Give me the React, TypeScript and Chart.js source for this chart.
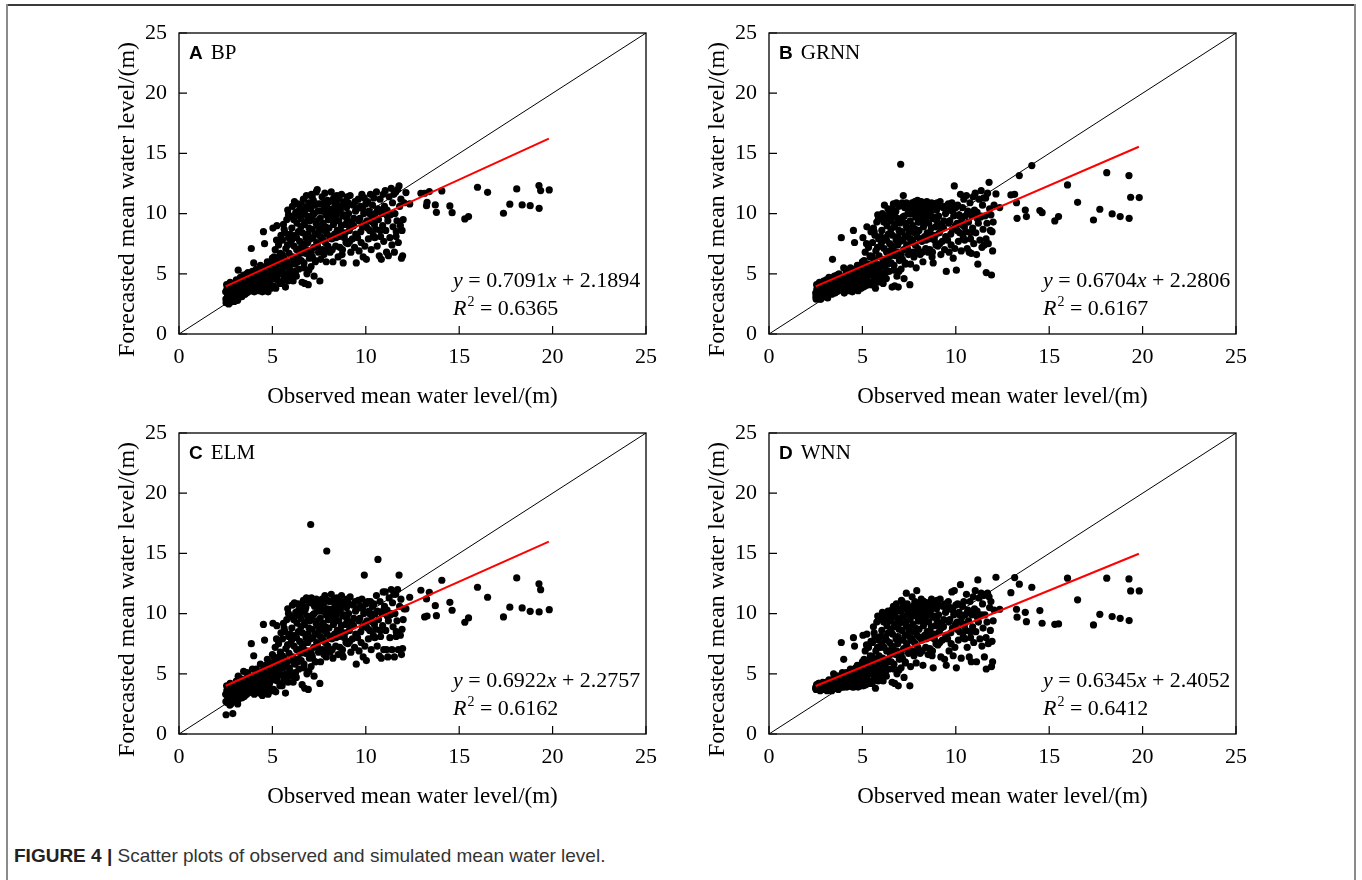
import React, { useEffect, useRef } from "react";
import { Chart, registerables } from "chart.js";
Chart.register(...registerables);

// ---------- axis ticks ----------
const axisTicks = [0, 5, 10, 15, 20, 25];
const axisMin = 0;
const axisMax = 25;

// ---------- observed values (shared by all four models), grouped in bands ----------
const observedBands: number[][] = [
  [2.50, 2.52, 2.55, 2.58, 2.62, 2.66, 2.70, 2.74, 2.78, 2.83, 2.88, 2.92, 2.96, 3.00],
  [3.04, 3.07, 3.11, 3.14, 3.17, 3.21, 3.25, 3.29, 3.32, 3.36, 3.40, 3.43, 3.46, 3.50],
  [3.53, 3.57, 3.60, 3.64, 3.67, 3.71, 3.75, 3.79, 3.83, 3.87, 3.90, 3.93, 3.96, 4.00],
  [4.03, 4.07, 4.10, 4.14, 4.17, 4.21, 4.25, 4.29, 4.32, 4.36, 4.40, 4.43, 4.46, 4.50],
  [4.52, 4.55, 4.58, 4.61, 4.64, 4.67, 4.70, 4.73, 4.77, 4.80, 4.83, 4.86, 4.90, 4.93, 4.96, 5.00],
  [5.03, 5.06, 5.09, 5.12, 5.15, 5.18, 5.21, 5.24, 5.27, 5.30, 5.33, 5.37, 5.40, 5.43, 5.46, 5.49],
  [5.52, 5.54, 5.57, 5.59, 5.62, 5.64, 5.67, 5.70, 5.72, 5.74, 5.77, 5.79, 5.82, 5.84, 5.87, 5.89, 5.92, 5.94, 5.97, 5.99],
  [6.02, 6.04, 6.07, 6.09, 6.11, 6.14, 6.16, 6.18, 6.21, 6.23, 6.25, 6.28, 6.30, 6.32, 6.35, 6.37, 6.39, 6.42, 6.44, 6.46, 6.48, 6.50],
  [6.52, 6.54, 6.57, 6.59, 6.61, 6.64, 6.66, 6.68, 6.71, 6.73, 6.75, 6.78, 6.80, 6.82, 6.85, 6.87, 6.89, 6.92, 6.94, 6.96, 6.98, 7.00],
  [7.02, 7.05, 7.07, 7.09, 7.12, 7.14, 7.16, 7.19, 7.21, 7.23, 7.26, 7.28, 7.30, 7.33, 7.35, 7.37, 7.40, 7.42, 7.44, 7.47, 7.49, 7.54],
  [7.56, 7.58, 7.61, 7.63, 7.66, 7.68, 7.71, 7.73, 7.76, 7.78, 7.81, 7.83, 7.86, 7.88, 7.91, 7.93, 7.95, 7.97, 7.99, 8.00],
  [8.03, 8.06, 8.09, 8.12, 8.15, 8.18, 8.21, 8.24, 8.27, 8.30, 8.33, 8.36, 8.39, 8.42, 8.45, 8.47, 8.49, 8.52],
  [8.55, 8.58, 8.61, 8.64, 8.67, 8.70, 8.73, 8.76, 8.79, 8.82, 8.85, 8.88, 8.91, 8.94, 8.97, 9.00],
  [9.04, 9.08, 9.12, 9.16, 9.20, 9.24, 9.28, 9.32, 9.36, 9.40, 9.43, 9.46, 9.49, 9.52],
  [9.56, 9.60, 9.64, 9.68, 9.71, 9.75, 9.79, 9.82, 9.86, 9.89, 9.92, 9.95, 9.98, 10.00],
  [10.03, 10.07, 10.10, 10.14, 10.18, 10.21, 10.25, 10.29, 10.32, 10.36, 10.40, 10.43, 10.46, 10.50],
  [10.54, 10.57, 10.61, 10.65, 10.68, 10.72, 10.76, 10.79, 10.83, 10.86, 10.90, 10.93, 10.96, 11.00],
  [11.04, 11.07, 11.11, 11.14, 11.18, 11.21, 11.25, 11.29, 11.32, 11.36, 11.40, 11.43, 11.46, 11.50],
  [11.53, 11.56, 11.60, 11.63, 11.67, 11.70, 11.74, 11.78, 11.81, 11.85, 11.88, 11.91, 11.94, 11.97, 12.00, 12.05],
  [12.15, 12.35, 12.95, 13.15, 13.25, 13.28, 13.40, 13.72, 13.78, 14.07, 14.50, 14.62, 15.30, 15.50, 15.98, 16.52, 17.37, 17.71, 18.08, 18.37, 18.80, 19.27, 19.36, 19.28, 19.82],
  // second layer for the dense part of the cloud
  [2.51, 2.56, 2.61, 2.68, 2.72, 2.81, 2.86, 2.94, 3.02, 3.10, 3.19, 3.27, 3.38, 3.48],
  [3.55, 3.62, 3.69, 3.77, 3.85, 3.92, 3.98, 4.05, 4.12, 4.19, 4.27, 4.34, 4.41, 4.48],
  [4.54, 4.60, 4.66, 4.72, 4.78, 4.84, 4.91, 4.97, 5.04, 5.10, 5.16, 5.22, 5.29, 5.35, 5.41, 5.47],
  [5.53, 5.58, 5.63, 5.69, 5.75, 5.81, 5.86, 5.91, 5.96, 6.03, 6.08, 6.13, 6.19, 6.24, 6.29, 6.36, 6.41, 6.47],
  [6.53, 6.58, 6.63, 6.69, 6.74, 6.79, 6.84, 6.90, 6.95, 7.03, 7.08, 7.13, 7.18, 7.24, 7.29, 7.34, 7.41, 7.46],
  [7.57, 7.62, 7.67, 7.72, 7.77, 7.84, 7.89, 7.94, 8.02, 8.08, 8.14, 8.20, 8.26, 8.32, 8.40, 8.46],
  [8.56, 8.63, 8.69, 8.75, 8.83, 8.90, 8.98, 9.06, 9.14, 9.22, 9.34, 9.45],
  [9.62, 9.73, 9.84, 9.96, 10.08, 10.20, 10.34, 10.48, 10.62, 10.78, 10.95, 11.15, 11.38, 11.62],
];

// ---------- forecasted values, same band layout ----------
const bpForecast: number[][] = [
  [3.5, 2.6, 4.1, 3.0, 3.8, 2.5, 3.3, 4.3, 2.8, 3.6, 3.1, 4.0, 2.7, 3.4],
  [3.0, 4.5, 3.6, 2.8, 5.3, 4.0, 3.3, 4.7, 3.8, 3.1, 4.3, 3.5, 4.9, 3.9],
  [3.3, 4.6, 3.8, 5.0, 4.2, 3.5, 4.8, 3.9, 4.4, 7.1, 3.6, 5.2, 4.1, 5.9],
  [3.5, 4.9, 4.1, 5.4, 3.8, 4.5, 5.1, 3.6, 4.3, 5.7, 4.0, 4.8, 3.5, 5.3],
  [8.5, 3.6, 7.5, 4.4, 5.6, 3.9, 4.9, 6.0, 3.5, 5.3, 4.2, 5.8, 4.7, 3.8, 5.1, 6.3],
  [8.8, 4.0, 6.4, 5.0, 7.0, 3.8, 5.6, 9.0, 4.5, 6.1, 7.4, 5.2, 4.2, 6.7, 8.2, 5.8],
  [4.2, 7.8, 5.5, 9.1, 6.3, 4.6, 8.4, 3.9, 7.1, 5.0, 9.5, 6.0, 10.3, 4.4, 8.0, 6.7, 5.3, 9.8, 7.5, 4.8],
  [5.2, 8.8, 10.6, 6.4, 4.4, 9.5, 7.3, 11.0, 5.8, 8.2, 10.1, 4.8, 7.0, 9.2, 6.0, 10.8, 8.5, 5.4, 9.9, 7.7, 10.4, 6.7],
  [9.6, 6.1, 10.7, 4.3, 8.4, 7.2, 11.2, 5.5, 9.1, 4.2, 10.3, 6.7, 8.0, 11.5, 5.0, 9.8, 7.6, 4.1, 10.9, 8.8, 6.3, 9.4],
  [7.9, 10.4, 5.6, 11.6, 8.7, 6.4, 9.9, 11.1, 7.2, 4.8, 10.7, 8.3, 6.0, 9.4, 11.8, 7.6, 12.0, 9.0, 10.2, 6.8, 8.6, 4.4],
  [9.6, 6.2, 10.8, 8.0, 11.4, 7.0, 9.2, 10.3, 6.6, 8.6, 11.7, 7.6, 9.9, 6.0, 10.6, 8.3, 11.1, 7.3, 9.5, 10.0],
  [8.8, 11.0, 6.8, 9.7, 11.8, 7.9, 10.4, 6.0, 9.1, 11.3, 8.3, 10.8, 7.3, 9.9, 11.5, 8.6, 10.2, 6.4],
  [9.4, 11.2, 7.2, 10.3, 8.5, 11.6, 6.6, 9.8, 5.9, 10.8, 8.0, 11.0, 9.1, 7.6, 10.5, 11.4],
  [7.5, 10.0, 8.6, 11.5, 6.8, 9.3, 7.9, 10.7, 9.6, 7.2, 11.0, 8.3, 5.9, 10.4],
  [8.0, 11.2, 6.9, 9.6, 10.6, 7.6, 11.6, 8.9, 6.4, 10.0, 11.3, 7.3, 9.2, 10.8],
  [6.2, 9.4, 11.0, 7.9, 10.2, 8.6, 11.6, 7.0, 9.8, 10.7, 8.2, 11.3, 9.1, 10.0],
  [8.7, 11.8, 7.3, 10.4, 9.5, 6.5, 11.2, 8.1, 6.2, 10.0, 9.0, 11.6, 7.7, 10.6],
  [11.9, 8.6, 6.8, 10.3, 9.4, 6.5, 11.4, 8.0, 9.9, 12.1, 7.4, 10.9, 8.9, 11.6],
  [6.8, 10.0, 11.8, 8.5, 9.4, 12.0, 7.6, 12.3, 10.6, 9.0, 11.2, 6.3, 8.6, 6.5, 9.5, 10.9],
  [11.75, 10.8, 11.69, 11.69, 10.66, 10.94, 11.83, 10.72, 10.11, 11.88, 10.64, 10.08, 9.56, 9.75, 12.19, 11.77, 10.03, 10.78, 12.05, 10.72, 10.66, 12.33, 11.91, 10.44, 11.97],
  [2.9, 3.7, 3.2, 4.0, 2.6, 3.4, 3.9, 2.9, 3.6, 4.2, 3.1, 3.7, 4.4, 3.3],
  [4.3, 3.4, 5.1, 3.9, 4.6, 3.7, 4.5, 4.4, 3.7, 4.9, 4.1, 3.9, 5.0, 4.5],
  [4.5, 5.2, 4.1, 4.8, 5.6, 4.3, 5.4, 3.9, 6.0, 4.6, 5.5, 7.8, 4.9, 5.9, 6.6, 4.3],
  [6.6, 5.0, 8.7, 5.8, 4.6, 7.4, 9.9, 5.6, 8.3, 7.8, 4.9, 6.0, 9.8, 5.2, 8.0, 6.3, 10.2, 7.1],
  [8.9, 7.5, 10.0, 5.9, 9.3, 10.5, 7.0, 8.3, 5.3, 9.6, 6.8, 11.4, 8.0, 10.0, 6.1, 9.2, 7.3, 10.8],
  [8.1, 10.2, 9.0, 7.8, 10.9, 8.9, 7.0, 10.4, 9.5, 8.1, 10.0, 7.0, 11.2, 9.4, 8.0, 10.7],
  [8.1, 10.6, 9.0, 7.0, 9.9, 8.4, 9.6, 10.9, 7.7, 8.9, 9.0, 10.2],
  [9.4, 8.5, 10.4, 9.0, 8.8, 10.0, 9.3, 8.0, 10.2, 8.6, 10.3, 9.8, 10.0, 8.1],
];

const grnnForecast: number[][] = [
  [3.4, 2.9, 4.1, 3.2, 3.7, 3.0, 4.3, 3.5, 2.9, 3.9, 3.3, 4.4, 3.1, 3.7],
  [3.2, 4.5, 3.7, 3.0, 4.2, 4.7, 3.4, 4.0, 3.6, 3.3, 6.2, 4.4, 3.8, 4.8],
  [3.4, 4.6, 3.9, 4.9, 4.2, 3.6, 5.0, 4.0, 4.4, 8.0, 3.7, 4.7, 4.1, 5.5],
  [3.4, 4.8, 4.0, 5.2, 3.8, 4.4, 4.9, 3.6, 4.2, 5.5, 3.9, 4.6, 3.5, 5.0],
  [8.6, 3.7, 7.6, 4.3, 5.4, 3.9, 4.8, 5.7, 3.6, 5.1, 4.1, 5.5, 4.6, 3.8, 4.9, 6.0],
  [8.0, 3.9, 6.1, 4.8, 6.8, 4.0, 5.3, 8.9, 4.4, 5.8, 7.2, 5.0, 4.1, 6.5, 8.5, 5.6],
  [4.1, 7.6, 5.3, 8.8, 6.1, 4.5, 8.2, 3.8, 6.9, 4.9, 9.3, 5.8, 9.9, 4.3, 7.9, 6.5, 5.2, 9.6, 7.3, 4.7],
  [5.0, 8.6, 10.0, 6.2, 4.2, 9.3, 7.1, 10.7, 5.6, 8.0, 9.8, 4.6, 6.8, 9.0, 5.8, 10.4, 8.3, 5.2, 9.6, 7.5, 10.2, 6.5],
  [9.4, 5.9, 10.4, 3.9, 8.2, 7.0, 10.8, 5.3, 8.9, 4.0, 10.1, 6.5, 7.8, 10.9, 4.8, 9.6, 7.4, 3.9, 10.6, 8.6, 6.1, 9.2],
  [7.7, 14.1, 5.4, 10.8, 8.5, 6.2, 9.7, 11.5, 7.0, 4.6, 10.5, 8.1, 5.8, 9.2, 10.9, 7.4, 10.6, 8.8, 10.0, 6.6, 8.4, 4.1],
  [9.4, 5.8, 10.4, 7.8, 10.9, 6.8, 9.0, 10.1, 6.4, 8.4, 11.0, 7.4, 9.7, 5.5, 10.6, 8.1, 11.1, 7.1, 9.3, 9.8],
  [8.6, 10.6, 6.6, 9.5, 11.0, 7.7, 10.2, 6.0, 8.9, 10.9, 8.1, 10.5, 7.1, 9.7, 11.0, 8.4, 10.0, 6.8],
  [9.2, 10.8, 7.0, 10.1, 8.3, 10.9, 6.4, 9.6, 5.9, 10.6, 7.8, 10.8, 8.9, 7.4, 10.3, 10.9],
  [7.3, 9.8, 8.4, 11.0, 6.6, 9.1, 7.7, 10.5, 9.4, 7.0, 10.6, 8.1, 5.2, 10.2],
  [7.8, 10.8, 6.8, 9.4, 10.4, 7.4, 10.9, 8.7, 6.3, 9.8, 12.3, 7.1, 9.0, 10.5],
  [5.3, 9.2, 10.7, 7.7, 9.9, 8.4, 11.6, 6.9, 9.6, 10.5, 8.0, 11.2, 8.9, 9.8],
  [8.5, 11.5, 7.1, 10.2, 9.3, 6.8, 10.9, 7.9, 6.7, 9.8, 8.8, 11.4, 7.5, 10.3],
  [11.7, 8.4, 6.6, 10.1, 5.8, 9.2, 11.2, 7.8, 9.7, 11.9, 7.2, 10.7, 8.7, 11.3],
  [7.4, 9.8, 11.3, 5.1, 9.2, 11.7, 7.5, 12.6, 10.4, 8.6, 9.9, 4.9, 8.5, 6.9, 9.3, 10.7],
  [11.63, 10.5, 11.55, 11.6, 10.91, 9.61, 13.16, 10.3, 9.75, 13.99, 10.25, 10.08, 9.39, 9.75, 12.38, 10.94, 9.47, 10.36, 13.4, 9.97, 9.75, 13.16, 11.36, 9.61, 11.33],
  [3.1, 3.7, 3.3, 4.0, 2.9, 3.5, 3.9, 3.2, 3.6, 4.2, 3.3, 3.7, 4.4, 3.5],
  [4.2, 3.5, 4.9, 3.9, 4.5, 3.7, 4.4, 4.3, 3.8, 4.8, 4.0, 3.9, 4.9, 4.4],
  [4.4, 5.0, 4.1, 4.7, 5.4, 4.3, 5.2, 3.9, 5.8, 4.5, 5.3, 7.5, 4.8, 5.7, 6.4, 4.3],
  [6.4, 4.9, 8.5, 5.6, 4.5, 7.2, 9.6, 5.5, 8.1, 7.6, 4.8, 5.9, 9.5, 5.1, 7.8, 6.2, 9.9, 6.9],
  [8.7, 7.3, 9.8, 5.7, 9.1, 10.2, 6.8, 8.1, 5.2, 9.4, 6.6, 10.9, 7.8, 9.8, 5.9, 9.0, 7.1, 10.5],
  [7.9, 10.0, 8.8, 7.6, 10.6, 8.7, 6.8, 10.2, 9.3, 7.9, 9.8, 6.8, 10.8, 9.2, 7.8, 10.4],
  [7.9, 10.4, 8.8, 6.8, 9.7, 8.2, 9.4, 10.6, 7.5, 8.7, 8.8, 10.0],
  [9.2, 8.3, 10.2, 8.8, 8.6, 9.8, 9.1, 7.8, 10.0, 8.4, 10.1, 9.6, 9.8, 7.9],
];

const elmForecast: number[][] = [
  [3.3, 1.6, 4.0, 2.6, 3.7, 2.9, 3.2, 4.2, 2.5, 3.5, 1.7, 3.9, 2.8, 3.4],
  [2.9, 4.4, 3.5, 2.5, 4.8, 3.9, 3.2, 4.6, 3.7, 3.0, 4.2, 3.4, 5.2, 3.8],
  [3.2, 4.6, 3.7, 5.1, 4.1, 3.4, 4.8, 3.8, 4.4, 7.5, 3.5, 5.4, 4.0, 6.5],
  [3.3, 4.9, 4.0, 5.4, 3.7, 4.4, 5.0, 3.4, 4.2, 5.8, 3.9, 4.7, 3.2, 5.3],
  [9.1, 3.5, 7.8, 4.4, 5.7, 3.8, 4.9, 6.2, 3.3, 5.3, 4.2, 5.9, 4.6, 3.6, 5.0, 6.6],
  [9.2, 3.7, 6.4, 4.9, 7.2, 3.5, 5.6, 9.0, 4.4, 6.1, 7.5, 5.2, 4.0, 6.8, 8.4, 5.8],
  [4.0, 7.9, 5.5, 9.2, 6.3, 4.5, 8.5, 3.4, 7.1, 5.0, 9.5, 6.0, 10.4, 4.3, 8.1, 6.7, 5.2, 9.8, 7.5, 4.8],
  [5.1, 8.8, 10.7, 6.4, 4.3, 9.5, 7.3, 10.9, 5.8, 8.2, 10.1, 4.7, 7.0, 9.2, 6.0, 10.8, 8.5, 5.4, 9.9, 7.7, 10.4, 6.7],
  [9.6, 6.1, 10.7, 4.1, 8.4, 7.2, 11.1, 5.5, 9.1, 3.8, 10.3, 6.7, 8.0, 11.3, 5.0, 9.8, 7.6, 3.7, 10.9, 8.8, 6.3, 9.4],
  [7.9, 17.4, 5.6, 11.3, 8.7, 6.4, 9.9, 10.8, 7.2, 4.8, 10.6, 8.3, 6.0, 9.4, 11.2, 7.6, 11.0, 9.0, 10.2, 6.8, 8.6, 4.2],
  [9.6, 6.0, 10.6, 8.0, 11.2, 7.0, 9.2, 10.3, 6.6, 8.6, 11.5, 7.6, 9.9, 6.4, 15.2, 8.3, 11.1, 7.3, 9.5, 10.0],
  [8.8, 11.0, 6.8, 9.7, 11.6, 7.9, 10.4, 6.3, 9.1, 11.2, 8.3, 10.8, 7.3, 9.9, 11.3, 8.6, 10.2, 6.6],
  [9.4, 11.1, 7.2, 10.3, 8.5, 11.5, 6.6, 9.8, 6.4, 10.8, 8.0, 11.0, 9.1, 7.6, 10.5, 11.2],
  [7.5, 10.0, 8.6, 11.4, 6.8, 9.3, 7.9, 10.7, 9.6, 7.2, 11.0, 8.3, 5.8, 10.4],
  [8.0, 11.1, 6.9, 9.6, 10.6, 7.6, 11.2, 8.9, 6.4, 10.0, 13.2, 7.3, 9.2, 10.8],
  [6.1, 9.4, 11.0, 7.9, 10.2, 8.6, 11.0, 7.0, 9.8, 10.6, 8.2, 10.8, 9.1, 10.0],
  [8.7, 11.5, 7.3, 14.5, 9.5, 6.5, 11.0, 8.1, 6.3, 10.0, 9.0, 11.8, 7.0, 10.6],
  [11.8, 8.6, 7.0, 10.3, 6.4, 9.4, 11.3, 8.0, 9.9, 12.0, 7.0, 10.9, 8.9, 11.6],
  [6.4, 10.0, 11.6, 8.5, 9.4, 12.0, 7.0, 13.2, 10.6, 8.2, 11.2, 6.6, 8.7, 7.1, 9.5, 10.4],
  [10.4, 11.36, 11.94, 9.72, 11.22, 9.8, 11.77, 10.66, 9.83, 12.77, 10.94, 10.28, 9.28, 9.64, 12.19, 11.36, 9.72, 10.53, 12.96, 10.47, 10.19, 12.47, 11.99, 10.14, 10.33],
  [2.7, 3.6, 3.0, 3.9, 2.4, 3.3, 3.8, 2.7, 3.5, 4.1, 2.9, 3.6, 4.3, 3.1],
  [4.2, 3.3, 5.0, 3.8, 4.5, 3.5, 4.4, 4.3, 3.5, 4.8, 4.0, 3.7, 4.9, 4.4],
  [4.4, 5.1, 4.0, 4.7, 5.5, 4.2, 5.3, 3.7, 5.9, 4.5, 5.4, 7.9, 4.8, 5.8, 6.5, 4.1],
  [6.5, 4.9, 8.8, 5.7, 4.5, 7.4, 10.0, 5.5, 8.3, 7.8, 4.8, 6.0, 9.8, 5.1, 8.0, 6.2, 10.3, 7.0],
  [8.9, 7.5, 10.1, 5.8, 9.3, 10.5, 6.9, 8.3, 5.2, 9.6, 6.7, 11.2, 8.0, 10.0, 6.0, 9.2, 7.3, 10.8],
  [8.1, 10.2, 9.0, 7.8, 10.9, 8.9, 7.0, 10.4, 9.5, 8.1, 10.0, 7.0, 11.0, 9.4, 8.0, 10.7],
  [8.1, 10.6, 9.0, 7.0, 9.9, 8.4, 9.6, 10.9, 7.7, 8.9, 9.0, 10.2],
  [9.4, 8.5, 10.4, 9.0, 8.8, 10.0, 9.3, 8.0, 10.2, 8.6, 10.3, 9.8, 10.0, 8.1],
];

const wnnForecast: number[][] = [
  [3.8, 3.7, 4.1, 3.9, 3.7, 4.2, 3.8, 3.6, 4.0, 3.7, 4.3, 3.9, 3.7, 4.1],
  [3.9, 4.3, 3.6, 4.1, 3.8, 4.5, 3.7, 4.2, 3.9, 3.6, 4.4, 4.0, 5.0, 3.8],
  [3.8, 4.5, 4.0, 4.8, 4.2, 3.7, 4.6, 4.1, 4.4, 7.6, 3.9, 5.1, 4.3, 6.2],
  [3.9, 4.6, 4.2, 5.1, 3.9, 4.4, 4.8, 4.0, 4.3, 5.4, 4.1, 4.7, 3.9, 5.0],
  [8.0, 3.9, 7.3, 4.4, 5.5, 4.0, 4.7, 5.7, 3.9, 5.1, 4.2, 5.4, 4.6, 4.0, 4.9, 6.0],
  [8.2, 4.0, 6.2, 4.8, 6.9, 4.1, 5.4, 8.3, 4.4, 5.9, 7.2, 5.1, 4.2, 6.5, 7.7, 5.6],
  [4.2, 7.6, 5.4, 8.9, 6.2, 4.6, 8.1, 3.8, 6.9, 5.0, 9.3, 5.9, 9.8, 4.4, 7.8, 6.5, 5.3, 9.5, 7.2, 4.8],
  [5.2, 8.6, 10.1, 6.3, 4.4, 9.3, 7.2, 9.8, 5.7, 8.1, 9.9, 4.8, 6.9, 9.0, 6.0, 10.2, 8.4, 5.4, 9.6, 7.6, 10.0, 6.6],
  [9.4, 6.0, 10.3, 4.3, 8.3, 7.1, 10.6, 5.4, 8.9, 4.2, 10.0, 6.6, 7.9, 10.8, 5.0, 9.6, 7.5, 4.0, 10.4, 8.7, 6.2, 9.2],
  [7.8, 10.2, 5.5, 11.1, 8.6, 6.3, 9.8, 10.6, 7.1, 4.7, 10.4, 8.2, 5.9, 9.3, 11.7, 7.5, 10.8, 8.9, 10.0, 6.7, 8.5, 4.0],
  [9.5, 5.6, 10.5, 7.9, 11.4, 6.9, 9.1, 10.2, 6.5, 8.5, 11.0, 7.5, 9.8, 5.9, 11.9, 8.2, 10.6, 7.2, 9.4, 9.9],
  [8.7, 10.8, 6.7, 9.6, 11.2, 7.8, 10.3, 5.7, 9.0, 11.0, 8.2, 10.6, 7.2, 9.8, 10.9, 8.5, 10.1, 6.6],
  [9.3, 10.9, 7.1, 10.2, 8.4, 11.2, 6.5, 9.7, 5.5, 10.7, 7.9, 10.9, 9.0, 7.5, 10.4, 11.1],
  [7.4, 9.9, 8.5, 11.2, 6.4, 9.2, 7.8, 10.6, 9.5, 6.2, 10.8, 8.2, 5.7, 10.3],
  [7.9, 11.0, 6.9, 9.5, 10.5, 7.5, 11.8, 8.8, 6.5, 9.9, 11.9, 7.2, 9.1, 10.7],
  [5.5, 9.3, 10.8, 7.8, 10.1, 8.5, 12.4, 6.3, 9.7, 10.6, 8.1, 11.0, 9.0, 9.9],
  [8.6, 11.6, 7.2, 10.3, 9.4, 6.4, 11.0, 8.0, 6.0, 9.9, 8.9, 11.4, 7.6, 10.4],
  [11.9, 8.5, 6.0, 10.2, 12.8, 9.3, 11.3, 7.9, 9.8, 11.7, 7.3, 10.8, 8.8, 11.5],
  [6.4, 9.9, 11.6, 5.4, 9.3, 11.7, 7.5, 11.4, 10.5, 8.6, 11.0, 5.6, 7.7, 6.0, 9.4, 10.3],
  [13.02, 10.36, 11.74, 12.99, 10.36, 9.7, 12.44, 10.11, 9.33, 12.19, 10.25, 9.2, 9.11, 9.14, 12.94, 11.14, 9.06, 9.94, 12.94, 9.75, 9.61, 12.88, 11.88, 9.42, 11.88],
  [3.9, 4.0, 3.8, 4.2, 3.7, 3.9, 4.1, 3.8, 4.0, 4.3, 3.8, 4.0, 4.5, 3.9],
  [4.3, 3.9, 4.8, 4.1, 4.5, 3.9, 4.4, 4.3, 4.0, 4.7, 4.2, 4.0, 4.8, 4.4],
  [4.5, 5.0, 4.2, 4.7, 5.3, 4.4, 5.1, 4.1, 5.7, 4.6, 5.3, 7.4, 4.9, 5.7, 6.3, 4.4],
  [6.4, 5.0, 8.4, 5.7, 4.6, 7.2, 9.5, 5.5, 8.1, 7.6, 4.9, 5.9, 9.4, 5.2, 7.8, 6.2, 9.9, 6.9],
  [8.7, 7.3, 9.8, 5.8, 9.1, 10.2, 6.9, 8.1, 5.3, 9.4, 6.7, 11.0, 7.8, 9.8, 6.0, 9.0, 7.2, 10.5],
  [8.0, 10.0, 8.9, 7.7, 10.7, 8.8, 6.9, 10.3, 9.4, 8.0, 9.9, 6.9, 11.0, 9.3, 7.9, 10.5],
  [8.0, 10.5, 8.9, 6.9, 9.8, 8.3, 9.5, 10.8, 7.6, 8.8, 8.9, 10.1],
  [9.3, 8.4, 10.3, 8.9, 8.7, 9.9, 9.2, 7.9, 10.1, 8.5, 10.2, 9.7, 9.9, 8.0],
];

// ---------- 1:1 line and fitted regression lines (end points) ----------
const identityLine: number[][] = [[0, 0], [25, 25]];
const bpFit: number[][] = [[2.5, 3.96], [19.8, 16.23]];
const grnnFit: number[][] = [[2.5, 3.96], [19.8, 15.55]];
const elmFit: number[][] = [[2.5, 4.01], [19.8, 15.98]];
const wnnFit: number[][] = [[2.5, 3.99], [19.8, 14.97]];

// ---------- labels ----------
const panelLetters = ["A", "B", "C", "D"];
const modelNames = ["BP", "GRNN", "ELM", "WNN"];
const slopes = ["0.7091", "0.6704", "0.6922", "0.6345"];
const intercepts = ["2.1894", "2.2806", "2.2757", "2.4052"];
const rSquared = ["0.6365", "0.6167", "0.6162", "0.6412"];
const xTitle = "Observed mean water level/(m)";
const yTitle = "Forecasted mean water level/(m)";

const forecasts = [bpForecast, grnnForecast, elmForecast, wnnForecast];
const fits = [bpFit, grnnFit, elmFit, wnnFit];

const SERIF = "'Liberation Serif', 'Times New Roman', Times, serif";
const SANS = "'Liberation Sans', Arial, Helvetica, sans-serif";

function zipBands(xs: number[][], ys: number[][]) {
  const out: { x: number; y: number }[] = [];
  for (let b = 0; b < xs.length; b++) {
    const xr = xs[b] || [];
    const yr = ys[b] || [];
    const n = Math.min(xr.length, yr.length);
    for (let i = 0; i < n; i++) out.push({ x: xr[i], y: yr[i] });
  }
  return out;
}

const decorPlugin = {
  id: "decor",
  afterDraw(chart: any) {
    const { ctx, chartArea: a, scales } = chart;
    const o = chart.options.plugins.decor;
    const xs = scales.x;
    const ys = scales.y;
    ctx.save();
    // plot frame
    ctx.strokeStyle = "#000";
    ctx.lineWidth = 1.3;
    ctx.strokeRect(a.left, a.top, a.right - a.left, a.bottom - a.top);
    // inward ticks
    ctx.beginPath();
    xs.ticks.forEach((t: any) => {
      const px = xs.getPixelForValue(t.value);
      ctx.moveTo(px, a.bottom);
      ctx.lineTo(px, a.bottom - 8);
    });
    ys.ticks.forEach((t: any) => {
      const py = ys.getPixelForValue(t.value);
      ctx.moveTo(a.left, py);
      ctx.lineTo(a.left + 8, py);
    });
    ctx.lineWidth = 1.2;
    ctx.stroke();

    ctx.fillStyle = "#000";
    ctx.textBaseline = "alphabetic";
    // x title
    ctx.font = `23px ${SERIF}`;
    ctx.textAlign = "center";
    ctx.fillText(o.xTitle, (a.left + a.right) / 2, a.bottom + 69);
    // y title
    ctx.save();
    ctx.font = `24px ${SERIF}`;
    ctx.translate(a.left - 51, (a.top + a.bottom) / 2 + 16);
    ctx.rotate(-Math.PI / 2);
    ctx.textBaseline = "middle";
    ctx.fillText(o.yTitle, 0, 0);
    ctx.restore();

    // panel label
    ctx.textAlign = "left";
    ctx.textBaseline = "alphabetic";
    ctx.font = `bold 19px ${SANS}`;
    const lx = a.left + 10;
    const ly = a.top + 26;
    ctx.fillText(o.letter, lx, ly);
    const lw = ctx.measureText(o.letter).width;
    ctx.font = `21px ${SERIF}`;
    ctx.fillText(o.name, lx + lw + 8, ly);

    // equation
    let ex = a.left + 274;
    const ey = a.top + 254;
    const parts: [string, boolean][] = [
      ["y", true],
      [" = " + o.slope, false],
      ["x", true],
      [" + " + o.intercept, false],
    ];
    parts.forEach(([s, it]) => {
      ctx.font = `${it ? "italic " : ""}22px ${SERIF}`;
      ctx.fillText(s, ex, ey);
      ex += ctx.measureText(s).width;
    });
    // R^2
    let rx = a.left + 274;
    const ry = a.top + 282;
    ctx.font = `italic 22px ${SERIF}`;
    ctx.fillText("R", rx, ry);
    rx += ctx.measureText("R").width + 1;
    ctx.font = `14px ${SERIF}`;
    ctx.fillText("2", rx, ry - 9);
    rx += ctx.measureText("2").width;
    ctx.font = `22px ${SERIF}`;
    ctx.fillText(" = " + o.r2, rx, ry);
    ctx.restore();
  },
};

function Panel({ idx, left, top }: { idx: number; left: number; top: number }) {
  const ref = useRef<HTMLCanvasElement | null>(null);
  useEffect(() => {
    if (!ref.current) return;
    const toXY = (arr: number[][]) => arr.map((p) => ({ x: p[0], y: p[1] }));
    const chart = new Chart(ref.current, {
      type: "scatter",
      data: {
        datasets: [
          {
            data: toXY(fits[idx]),
            showLine: true,
            borderColor: "#ff0000",
            borderWidth: 2,
            pointRadius: 0,
            order: 1,
          },
          {
            data: zipBands(observedBands, forecasts[idx]),
            backgroundColor: "#000",
            borderWidth: 0,
            pointRadius: 3.6,
            order: 2,
          },
          {
            data: toXY(identityLine),
            showLine: true,
            borderColor: "#000",
            borderWidth: 1,
            pointRadius: 0,
            order: 3,
          },
        ],
      } as any,
      options: {
        animation: false,
        responsive: false,
        events: [],
        layout: { padding: { left: 0, right: 14, top: 23, bottom: 0 } },
        scales: {
          x: {
            type: "linear",
            min: axisMin,
            max: axisMax,
            afterBuildTicks: (s: any) => {
              s.ticks = axisTicks.map((v) => ({ value: v }));
            },
            afterFit: (s: any) => {
              s.height = 76;
              s.paddingLeft = 0;
              s.paddingRight = 0;
            },
            grid: { display: false, drawTicks: false },
            border: { display: false },
            ticks: { color: "#000", padding: 10, font: { family: SERIF, size: 22 }, maxRotation: 0 },
          },
          y: {
            type: "linear",
            min: axisMin,
            max: axisMax,
            afterBuildTicks: (s: any) => {
              s.ticks = axisTicks.map((v) => ({ value: v }));
            },
            afterFit: (s: any) => {
              s.width = 79;
              s.paddingTop = 0;
              s.paddingBottom = 0;
            },
            grid: { display: false, drawTicks: false },
            border: { display: false },
            ticks: { color: "#000", padding: 12, font: { family: SERIF, size: 22 } },
          },
        },
        plugins: {
          legend: { display: false },
          tooltip: { enabled: false },
          decor: {
            letter: panelLetters[idx],
            name: modelNames[idx],
            slope: slopes[idx],
            intercept: intercepts[idx],
            r2: rSquared[idx],
            xTitle,
            yTitle,
          },
        } as any,
      },
      plugins: [decorPlugin],
    });
    return () => chart.destroy();
  }, [idx]);
  return (
    <canvas
      ref={ref}
      width={560}
      height={400}
      style={{ position: "absolute", left, top, width: 560, height: 400 }}
    />
  );
}

export default function App() {
  return (
    <div
      style={{
        position: "fixed",
        left: 0,
        top: 0,
        width: 1362,
        height: 880,
        background: "#fff",
        overflow: "hidden",
      }}
    >
      <div style={{ position: "absolute", left: 7, top: 4, width: 1349, height: 2, background: "#3a3a3a" }} />
      <div style={{ position: "absolute", left: 6, top: 4, width: 2, height: 876, background: "#8a8a8a" }} />
      <div style={{ position: "absolute", left: 1354, top: 4, width: 2, height: 876, background: "#8a8a8a" }} />
      <Panel idx={0} left={100} top={10} />
      <Panel idx={1} left={690} top={10} />
      <Panel idx={2} left={100} top={410} />
      <Panel idx={3} left={690} top={410} />
      <div
        style={{
          position: "absolute",
          left: 14,
          top: 845,
          fontFamily: SANS,
          fontSize: 19,
          color: "#333",
          whiteSpace: "nowrap",
          lineHeight: "22px",
        }}
      >
        <b style={{ color: "#222" }}>FIGURE 4 |</b> Scatter plots of observed and simulated mean water level.
      </div>
    </div>
  );
}
